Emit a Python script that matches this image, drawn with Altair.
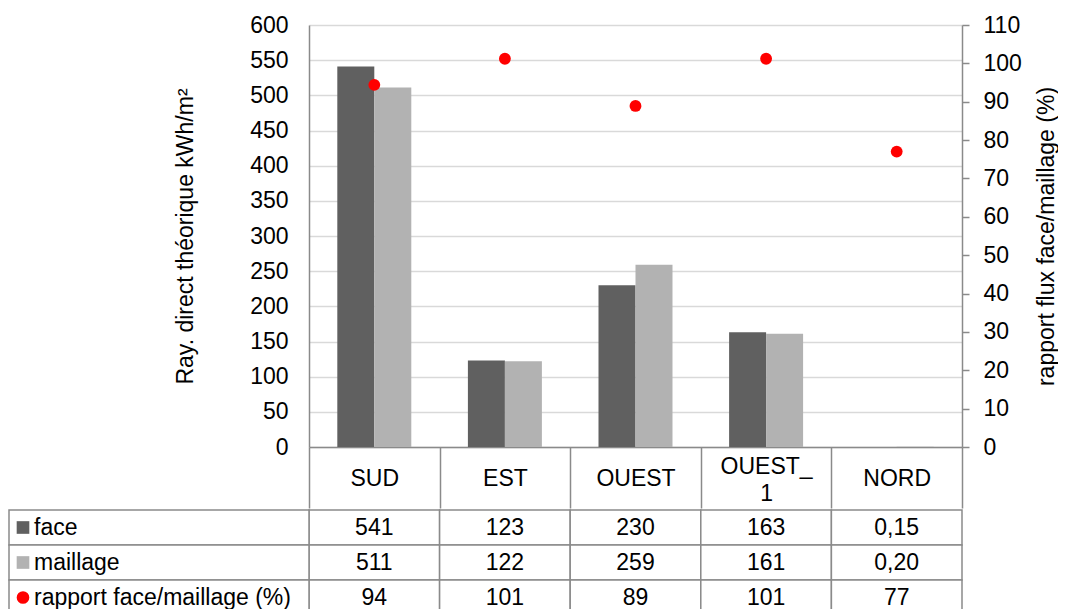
import altair as alt
import pandas as pd

categories = ["SUD", "EST", "OUEST", "OUEST_1", "NORD"]
face = [541, 123, 230, 163, 0.15]
maillage = [511, 122, 259, 161, 0.20]
rapport = [94.4, 101.2, 88.9, 101.2, 77.0]
series = ["face", "maillage"]
row_labels = ["face", "maillage", "rapport face/maillage (%)"]

FONT = "Liberation Sans"
FS = 23
GRAY = "#8a8a8a"
DARK = "#606060"
LIGHT = "#b2b2b2"
RED = "#ff0000"


def fmt(v):
    if v < 1:
        return f"{v:.2f}".replace(".", ",")
    return f"{v:.0f}"


bars_df = pd.DataFrame({
    "cat": categories * 2,
    "serie": ["face"] * len(categories) + ["maillage"] * len(categories),
    "val": face + maillage,
})
pts_df = pd.DataFrame({"cat": categories, "ratio": rapport})

cells = []
for i, c in enumerate(categories):
    cells.append({"cat": c, "row": row_labels[0], "text": fmt(face[i])})
    cells.append({"cat": c, "row": row_labels[1], "text": fmt(maillage[i])})
    cells.append({"cat": c, "row": row_labels[2], "text": fmt(rapport[i])})
cells_df = pd.DataFrame(cells)
lab_df = pd.DataFrame({"row": row_labels})

W, H = 653, 422

x_enc = alt.X(
    "cat:N", sort=categories, title=None,
    scale=alt.Scale(paddingInner=0, paddingOuter=0),
    axis=alt.Axis(
        labelExpr="datum.value == 'OUEST_1' ? ['OUEST_', '1'] : datum.label",
        tickBand="extent", tickSize=61, tickColor=GRAY, tickWidth=1.5,
        domainColor=GRAY, domainWidth=1.5, labelPadding=-30,
        labelBaseline={"condition": {"test": "datum.value == 'OUEST_1'",
                                     "value": "bottom"},
                       "value": "middle"},
        labelFontSize=FS, labelLineHeight=27,
        labelAngle=0, grid=False, labelColor="black", labelFont=FONT,
    ),
)

bar_layer = alt.Chart(bars_df).mark_bar().encode(
    x=x_enc,
    xOffset=alt.XOffset("serie:N", sort=series,
                        scale=alt.Scale(paddingInner=0, paddingOuter=0.765)),
    y=alt.Y(
        "val:Q", scale=alt.Scale(domain=[0, 600], nice=False),
        axis=alt.Axis(
            values=list(range(0, 601, 50)),
            title="Ray. direct théorique kWh/m²",
            grid=True, gridColor="#d9d9d9", gridWidth=1.5, ticks=False,
            domainColor=GRAY, domainWidth=1.5, labelPadding=21,
            labelFontSize=FS, titleFontSize=FS, titleFontWeight="normal",
            labelFont=FONT, titleFont=FONT, labelColor="black", titleColor="black",
            titleX=-124, titleY=211, titleAngle=270, titleAlign="center",
            titleBaseline="middle",
        ),
    ),
    color=alt.Color("serie:N", sort=series,
                    scale=alt.Scale(domain=series, range=[DARK, LIGHT]),
                    legend=None),
)

pt_layer = alt.Chart(pts_df).mark_point(filled=True, size=140, opacity=1,
                                        color=RED).encode(
    x=x_enc,
    y=alt.Y(
        "ratio:Q", scale=alt.Scale(domain=[0, 110], nice=False),
        axis=alt.Axis(
            orient="right", values=list(range(0, 111, 10)), grid=False,
            tickSize=7, tickColor=GRAY, tickWidth=1.5,
            domainColor=GRAY, domainWidth=1.5, labelPadding=14,
            title="rapport flux face/maillage (%)",
            labelFontSize=FS, titleFontSize=FS, titleFontWeight="normal",
            labelFont=FONT, titleFont=FONT, labelColor="black", titleColor="black",
            titleX=84, titleY=211, titleAngle=270, titleAlign="center",
            titleBaseline="middle",
        ),
    ),
)

top = alt.layer(bar_layer, pt_layer).resolve_scale(y="independent").properties(
    width=W, height=H)

tx = alt.X("cat:N", sort=categories,
           scale=alt.Scale(paddingInner=0, paddingOuter=0), axis=None)
ty = alt.Y("row:N", sort=row_labels,
           scale=alt.Scale(paddingInner=0, paddingOuter=0), axis=None)

cell_rect = alt.Chart(cells_df).mark_rect(
    fill="white", stroke=GRAY, strokeWidth=1.5).encode(x=tx, y=ty)
cell_text = alt.Chart(cells_df).mark_text(
    font=FONT, fontSize=FS, color="black", baseline="middle").encode(
    x=tx, y=ty, text="text:N")
lab_rect = alt.Chart(lab_df).mark_rect(
    fill="white", stroke=GRAY, strokeWidth=1.5).encode(
    x=alt.value(-300), x2=alt.value(0), y=ty)
lab_text = alt.Chart(lab_df).mark_text(
    font=FONT, fontSize=FS, color="black", align="left",
    baseline="middle").encode(x=alt.value(-275), y=ty, text="row:N")
lab_sym = alt.Chart(lab_df).mark_point(filled=True, opacity=1).encode(
    x=alt.value(-286), y=ty,
    shape=alt.Shape("row:N", scale=alt.Scale(
        domain=row_labels, range=["square", "square", "circle"]), legend=None),
    color=alt.Color("row:N", scale=alt.Scale(
        domain=row_labels, range=[DARK, LIGHT, RED]), legend=None),
    size=alt.Size("row:N", scale=alt.Scale(
        domain=row_labels, range=[160, 160, 120]), legend=None),
)

bottom = alt.layer(cell_rect, cell_text, lab_rect, lab_text, lab_sym).properties(
    width=W, height=105)

chart = alt.vconcat(top, bottom, spacing=0).resolve_scale(
    color="independent", shape="independent", size="independent"
).properties(
    padding={"top": 6, "left": 0, "right": 0, "bottom": 0}
).configure_view(stroke=None)

chart.save("out.html", embed_options={"renderer": "svg", "actions": False})
